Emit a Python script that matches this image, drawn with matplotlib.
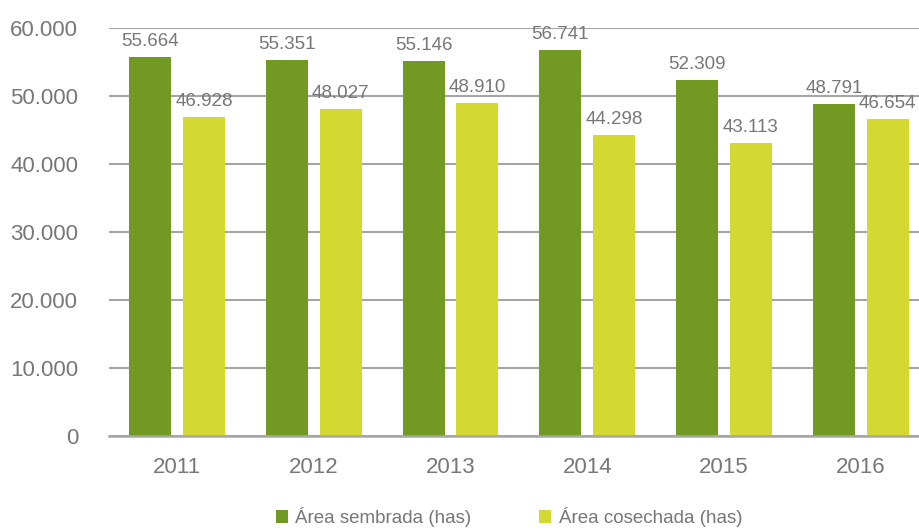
import matplotlib.pyplot as plt
import numpy as np

years = ['2011', '2012', '2013', '2014', '2015', '2016']
sembrada = [55664, 55351, 55146, 56741, 52309, 48791]
cosechada = [46928, 48027, 48910, 44298, 43113, 46654]
yticks = [0, 10000, 20000, 30000, 40000, 50000, 60000]

plt.rcParams['font.family'] = ['Liberation Sans', 'DejaVu Sans']
txt = '#77777b'
verde = '#729a22'
amarillo = '#d3d930'


def miles(v):
    return '{:,}'.format(int(v)).replace(',', '.')


fig = plt.figure(figsize=(9.2, 5.32), dpi=100)
ax = fig.add_axes([0.118, 0.1805, 0.892, 0.767])

x = np.arange(len(years))
w = 0.307
b1 = ax.bar(x - 0.197, sembrada, w, color=verde, label='Área sembrada (has)', zorder=3)
b2 = ax.bar(x + 0.197, cosechada, w, color=amarillo, label='Área cosechada (has)', zorder=3)

for bars in (b1, b2):
    for r in bars:
        ax.annotate(miles(r.get_height()), (r.get_x() + r.get_width() / 2, r.get_height()),
                    xytext=(0, 5), textcoords='offset points', ha='center', va='bottom',
                    fontsize=13.5, color=txt)

ax.set_xlim(-0.5, len(years) - 0.5)
ax.set_ylim(0, 60000)
ax.set_yticks(yticks)
ax.set_yticklabels([miles(v) for v in yticks])
ax.set_xticks(x)
ax.set_xticklabels(years)
ax.tick_params(axis='y', length=0, pad=22, labelsize=16, labelcolor=txt)
ax.tick_params(axis='x', length=0, pad=15, labelsize=16, labelcolor=txt)
ax.yaxis.grid(True, color='#a6a6a6', linewidth=1.5, zorder=0)
for s in ['top', 'right', 'left']:
    ax.spines[s].set_visible(False)
ax.spines['bottom'].set_color('#a6a6a6')
ax.spines['bottom'].set_linewidth(1.8)
ax.spines['bottom'].set_zorder(4)

fig.legend(handles=[b1, b2], loc='lower center', bbox_to_anchor=(0.553, -0.022), ncol=2,
           frameon=False, fontsize=13.5, labelcolor=txt, handlelength=0.65, handleheight=0.65,
           handletextpad=0.4, columnspacing=3.6)

plt.savefig('out.png', dpi=100)
